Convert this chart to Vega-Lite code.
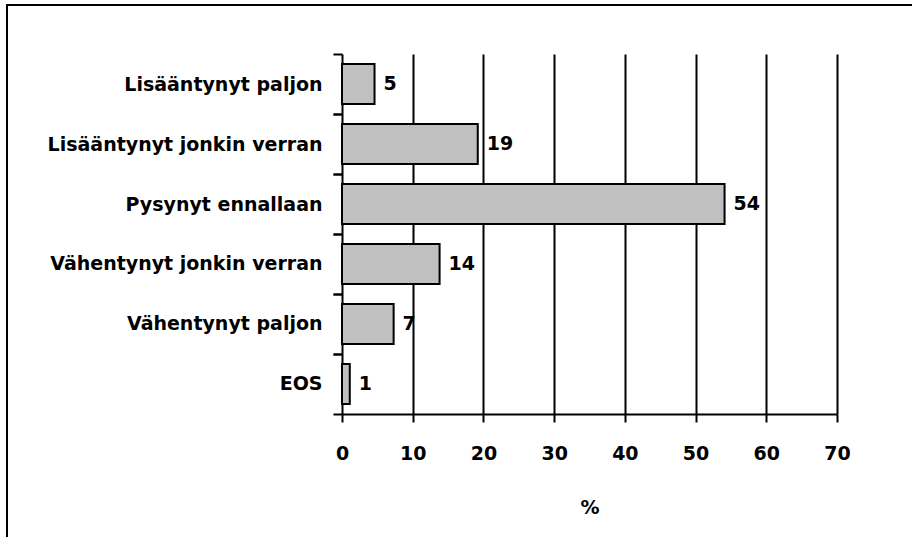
{
  "$schema": "https://vega.github.io/schema/vega-lite/v6.json",
  "width": 910,
  "height": 540,
  "autosize": "none",
  "padding": {"left": 7, "top": 5, "right": 0, "bottom": 0},
  "background": "white",
  "config": {
    "view": {"stroke": "black", "strokeWidth": 2},
    "font": "DejaVu Sans"
  },
  "data": {
    "values": [
      {"cat": "Lisääntynyt paljon", "pct": 4.6, "label": "5"},
      {"cat": "Lisääntynyt jonkin verran", "pct": 19.2, "label": "19"},
      {"cat": "Pysynyt ennallaan", "pct": 54.1, "label": "54"},
      {"cat": "Vähentynyt jonkin verran", "pct": 13.8, "label": "14"},
      {"cat": "Vähentynyt paljon", "pct": 7.3, "label": "7"},
      {"cat": "EOS", "pct": 1.1, "label": "1"}
    ]
  },
  "resolve": {"axis": {"x": "independent", "y": "independent"}},
  "layer": [
    {
      "mark": {"type": "bar", "fill": "#c0c0c0", "stroke": "black", "strokeWidth": 2},
      "encoding": {
        "y": {
          "field": "cat",
          "type": "nominal",
          "sort": null,
          "scale": {"range": [49, 409], "paddingInner": 0.3333, "paddingOuter": 0.1667},
          "axis": {
            "orient": "left",
            "title": null,
            "offset": -335,
            "bandPosition": 0,
            "tickOffset": -10,
            "labelOffset": 10,
            "tickSize": 9,
            "tickWidth": 2,
            "tickColor": "black",
            "domainColor": "black",
            "domainWidth": 2,
            "labelPadding": 11,
            "labelFont": "DejaVu Sans",
            "labelFontWeight": "bold",
            "labelFontSize": 19,
            "labelColor": "black",
            "labelLimit": 400,
            "grid": false
          }
        },
        "x": {
          "field": "pct",
          "type": "quantitative",
          "scale": {"domain": [0, 70], "range": [335, 830], "nice": false},
          "axis": {
            "orient": "bottom",
            "title": "%",
            "offset": -131,
            "values": [0, 10, 20, 30, 40, 50, 60, 70],
            "grid": false,
            "tickSize": 8,
            "tickWidth": 2,
            "tickColor": "black",
            "domainColor": "black",
            "domainWidth": 2,
            "labelPadding": 22,
            "labelFont": "DejaVu Sans",
            "labelFontWeight": "bold",
            "labelFontSize": 19,
            "labelColor": "black",
            "labelFlush": false,
            "titleFont": "DejaVu Sans",
            "titleFontWeight": "bold",
            "titleFontSize": 19,
            "titleColor": "black",
            "titlePadding": 35
          }
        }
      }
    },
    {
      "mark": {"type": "text", "align": "left", "baseline": "middle", "dx": 9, "font": "DejaVu Sans", "fontWeight": "bold", "fontSize": 19, "color": "black"},
      "encoding": {
        "y": {
          "field": "cat",
          "type": "nominal",
          "sort": null,
          "axis": {
            "orient": "left",
            "title": null,
            "offset": -335,
            "bandPosition": 1,
            "tickOffset": 10,
            "tickSize": 9,
            "tickWidth": 2,
            "tickColor": "black",
            "domain": false,
            "labels": false,
            "grid": false
          }
        },
        "x": {
          "field": "pct",
          "type": "quantitative",
          "axis": {
            "orient": "top",
            "title": null,
            "values": [10, 20, 30, 40, 50, 60, 70],
            "grid": true,
            "gridColor": "black",
            "gridWidth": 2,
            "gridOpacity": 1,
            "domain": false,
            "ticks": false,
            "labels": false
          }
        },
        "text": {"field": "label"}
      }
    }
  ]
}
